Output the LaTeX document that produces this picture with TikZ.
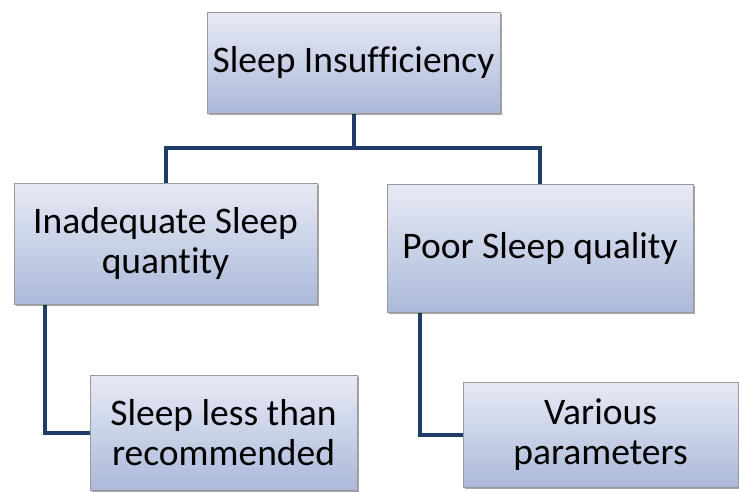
\documentclass[tikz,border=0pt]{standalone}
\usepackage{fontspec}
\setmainfont[Ligatures=NoCommon]{Carlito}
\usetikzlibrary{shadows,backgrounds,calc}
\definecolor{conncol}{HTML}{1F3D68}
\definecolor{boxedge}{HTML}{9A9A9A}
\definecolor{boxtop}{HTML}{E7EAF5}
\definecolor{boxbot}{HTML}{ABB9D9}
\tikzset{
  box/.style={rectangle, draw=boxedge, line width=1pt, top color=boxtop, bottom color=boxbot,
    align=center, inner sep=2pt, font=\fontsize{37.5}{40}\selectfont,
    drop shadow={shadow xshift=1.5pt, shadow yshift=-2pt, opacity=0.35, fill=black}},
  conn/.style={draw=conncol, line width=4pt}
}
\begin{document}
\begin{tikzpicture}[x=1pt,y=-1pt]
\useasboundingbox (0,0) rectangle (739,491);
\node[box, minimum width=293pt, minimum height=101pt] (top) at (353.5,62.5) {Sleep Insufficiency};
\node[box, minimum width=303pt, minimum height=121pt] (left) at (165.5,243.5) {Inadequate Sleep\\quantity};
\node[box, minimum width=306pt, minimum height=128pt] (right) at (540,248) {Poor Sleep quality};
\node[box, minimum width=267pt, minimum height=115pt] (bl) at (223.5,432.5) {Sleep less than\\recommended};
\node[box, minimum width=275pt, minimum height=105pt] (br) at (600.5,434.5) {Various\\parameters};
\begin{pgfonlayer}{background}
\coordinate (bus) at (353.5,148);
\draw[conn] (top.south) -- (bus);
\draw[conn] (left.north) |- (bus) -| (right.north);
\draw[conn] ($(left.south west)+(31,0)$) |- (bl.west);
\draw[conn] ($(right.south west)+(33,0)$) |- (br.west);
\end{pgfonlayer}
\end{tikzpicture}
\end{document}
